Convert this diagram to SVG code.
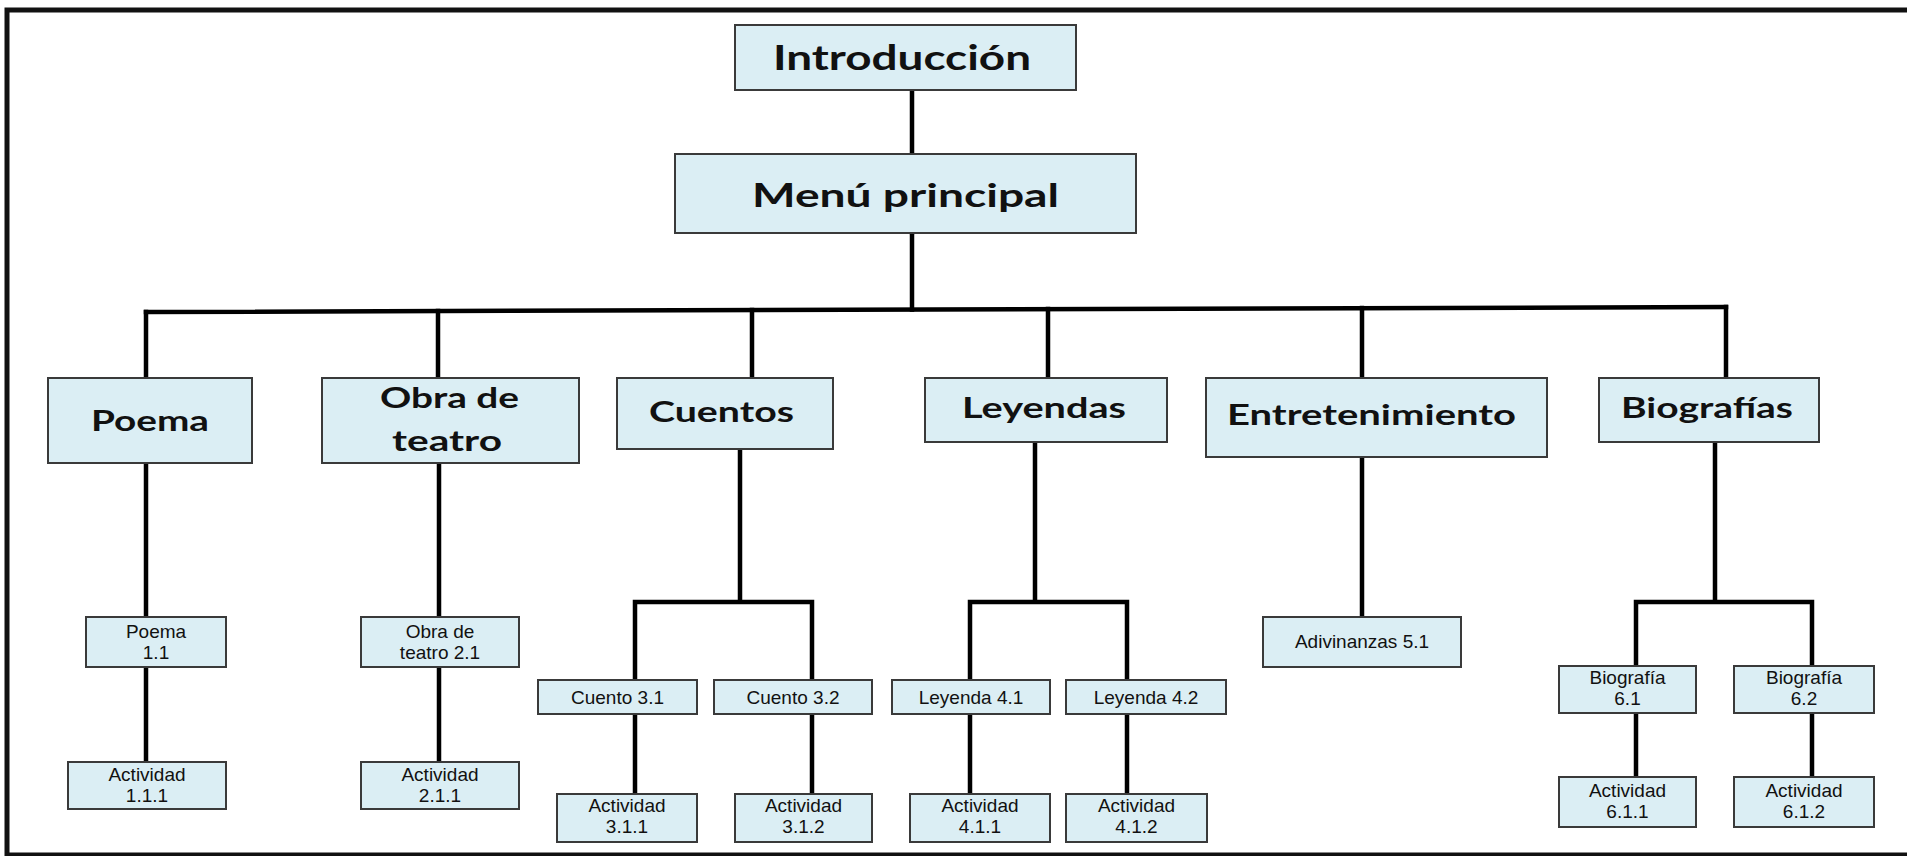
<svg xmlns="http://www.w3.org/2000/svg" width="1907" height="856" viewBox="0 0 1907 856">
<style>
.box{fill:#dbeef4;stroke:#3a3a3a;stroke-width:2}
.big{font-family:Lato,"Open Sans","Liberation Sans",sans-serif;font-weight:700;fill:#111;text-anchor:middle}
.sm{font-family:"Liberation Sans",Arial,sans-serif;font-size:19px;fill:#111;text-anchor:middle}
.con{stroke:#000;stroke-width:4.5;fill:none;stroke-linecap:square}
</style>
<rect x="0" y="0" width="1907" height="856" fill="#fff"/>
<rect x="7" y="10" width="1910" height="845" fill="none" stroke="#111" stroke-width="5"/>
<g id="connectors">
<path class="con" d="M912 90V232"/>
<path class="con" d="M912 233V309.6"/>
<path class="con" d="M146 312L1726 307"/>
<path class="con" d="M146 312V378M438 311V378M752 310V378M1048 309V378M1362 308V378M1726 307V378"/>
<path class="con" d="M146 463V617M146 667V762"/>
<path class="con" d="M439 463V617M439 667V762"/>
<path class="con" d="M740 449V602M635 680V602H812V680M635 714V794M812 714V794"/>
<path class="con" d="M1035 442V602M970 680V602H1127V680M970 714V794M1127 714V794"/>
<path class="con" d="M1362 457V617"/>
<path class="con" d="M1715 442V602M1636 666V602H1812V666M1636 713V777M1812 713V777"/>
</g>
<g id="intro"><rect class="box" x="735" y="25" width="341" height="65"/><text class="big" x="902" y="70" font-size="35" textLength="258" lengthAdjust="spacingAndGlyphs">Introducción</text></g>
<g id="menu"><rect class="box" x="675" y="154" width="461" height="79"/><text class="big" x="905.5" y="207" font-size="33" textLength="307" lengthAdjust="spacingAndGlyphs">Menú principal</text></g>
<g id="poema"><rect class="box" x="48" y="378" width="204" height="85"/><text class="big" x="150" y="431" font-size="29" textLength="118" lengthAdjust="spacingAndGlyphs">Poema</text></g>
<g id="obra"><rect class="box" x="322" y="378" width="257" height="85"/><text class="big" x="449.5" y="408" font-size="29" textLength="139" lengthAdjust="spacingAndGlyphs">Obra de</text><text class="big" x="447" y="451" font-size="29" textLength="110" lengthAdjust="spacingAndGlyphs">teatro</text></g>
<g id="cuentos"><rect class="box" x="617" y="378" width="216" height="71"/><text class="big" x="721.5" y="422" font-size="29" textLength="145" lengthAdjust="spacingAndGlyphs">Cuentos</text></g>
<g id="leyendas"><rect class="box" x="925" y="378" width="242" height="64"/><text class="big" x="1044" y="418" font-size="29" textLength="164" lengthAdjust="spacingAndGlyphs">Leyendas</text></g>
<g id="entretenimiento"><rect class="box" x="1206" y="378" width="341" height="79"/><text class="big" x="1371.5" y="425" font-size="29" textLength="289" lengthAdjust="spacingAndGlyphs">Entretenimiento</text></g>
<g id="biografias"><rect class="box" x="1599" y="378" width="220" height="64"/><text class="big" x="1707" y="418" font-size="29" textLength="172" lengthAdjust="spacingAndGlyphs">Biografías</text></g>
<g id="poema11"><rect class="box" x="86" y="617" width="140" height="50"/><text class="sm" x="156" y="638">Poema</text><text class="sm" x="156" y="659">1.1</text></g>
<g id="act111"><rect class="box" x="68" y="762" width="158" height="47"/><text class="sm" x="147" y="781">Actividad</text><text class="sm" x="147" y="802">1.1.1</text></g>
<g id="obra21"><rect class="box" x="361" y="617" width="158" height="50"/><text class="sm" x="440" y="638">Obra de</text><text class="sm" x="440" y="659">teatro 2.1</text></g>
<g id="act211"><rect class="box" x="361" y="762" width="158" height="47"/><text class="sm" x="440" y="781">Actividad</text><text class="sm" x="440" y="802">2.1.1</text></g>
<g id="cuento31"><rect class="box" x="538" y="680" width="159" height="34"/><text class="sm" x="617.5" y="704">Cuento 3.1</text></g>
<g id="cuento32"><rect class="box" x="714" y="680" width="158" height="34"/><text class="sm" x="793" y="704">Cuento 3.2</text></g>
<g id="act311"><rect class="box" x="557" y="794" width="140" height="48"/><text class="sm" x="627" y="812">Actividad</text><text class="sm" x="627" y="833">3.1.1</text></g>
<g id="act312"><rect class="box" x="735" y="794" width="137" height="48"/><text class="sm" x="803.5" y="812">Actividad</text><text class="sm" x="803.5" y="833">3.1.2</text></g>
<g id="leyenda41"><rect class="box" x="892" y="680" width="158" height="34"/><text class="sm" x="971" y="704">Leyenda 4.1</text></g>
<g id="leyenda42"><rect class="box" x="1066" y="680" width="160" height="34"/><text class="sm" x="1146" y="704">Leyenda 4.2</text></g>
<g id="act411"><rect class="box" x="910" y="794" width="140" height="48"/><text class="sm" x="980" y="812">Actividad</text><text class="sm" x="980" y="833">4.1.1</text></g>
<g id="act412"><rect class="box" x="1066" y="794" width="141" height="48"/><text class="sm" x="1136.5" y="812">Actividad</text><text class="sm" x="1136.5" y="833">4.1.2</text></g>
<g id="adiv51"><rect class="box" x="1263" y="617" width="198" height="50"/><text class="sm" x="1362" y="648">Adivinanzas 5.1</text></g>
<g id="bio61"><rect class="box" x="1559" y="666" width="137" height="47"/><text class="sm" x="1627.5" y="684">Biografía</text><text class="sm" x="1627.5" y="705">6.1</text></g>
<g id="bio62"><rect class="box" x="1734" y="666" width="140" height="47"/><text class="sm" x="1804" y="684">Biografía</text><text class="sm" x="1804" y="705">6.2</text></g>
<g id="act611"><rect class="box" x="1559" y="777" width="137" height="50"/><text class="sm" x="1627.5" y="797">Actividad</text><text class="sm" x="1627.5" y="818">6.1.1</text></g>
<g id="act612"><rect class="box" x="1734" y="777" width="140" height="50"/><text class="sm" x="1804" y="797">Actividad</text><text class="sm" x="1804" y="818">6.1.2</text></g>
</svg>
